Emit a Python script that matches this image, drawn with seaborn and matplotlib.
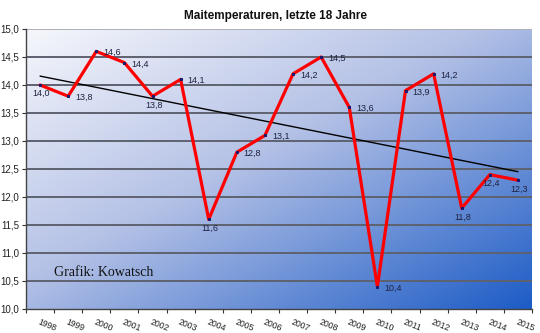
import numpy as np
import pandas as pd
import matplotlib
matplotlib.use("Agg")
import matplotlib.pyplot as plt
from matplotlib.colors import LinearSegmentedColormap
from matplotlib.ticker import FixedLocator, FuncFormatter
import seaborn as sns

# May mean temperatures (°C), last 18 years
years = [1998, 1999, 2000, 2001, 2002, 2003, 2004, 2005, 2006,
         2007, 2008, 2009, 2010, 2011, 2012, 2013, 2014, 2015]
temps = [14.0, 13.8, 14.6, 14.4, 13.8, 14.1, 11.6, 12.8, 13.1,
         14.2, 14.5, 13.6, 10.4, 13.9, 14.2, 11.8, 12.4, 12.3]
# where each value label sits relative to its point
label_pos = ["below", "right", "right", "right", "below", "right", "below", "right", "right",
             "right", "right", "right", "right", "right", "right", "below", "below", "below"]
y_ticks = [10.0, 10.5, 11.0, 11.5, 12.0, 12.5, 13.0, 13.5, 14.0, 14.5, 15.0]

df = pd.DataFrame({"idx": np.arange(len(years)), "year": years, "temp": temps})

sns.set_theme(style="white")
plt.rcParams["font.family"] = ["Liberation Sans", "DejaVu Sans"]

fig = plt.figure(figsize=(5.4, 3.33), dpi=100)
ax = fig.add_axes([26 / 540, 1 - 309 / 333, (532 - 26) / 540, (309 - 29) / 333])

# diagonal gradient backdrop of the plot area
cmap = LinearSegmentedColormap.from_list(
    "bg", [(0.0, "#f6f7fc"), (0.45, "#b4c1e6"), (1.0, "#1d5cc6")])
gx, gy = np.meshgrid(np.linspace(0, 1, 300), np.linspace(0, 1, 200))
grad = (gx + (1 - gy)) / 2
ax.imshow(grad, cmap=cmap, extent=[0, 1, 0, 1], transform=ax.transAxes,
          origin="lower", aspect="auto", zorder=0, interpolation="bilinear")

# horizontal grid
for v in y_ticks[1:]:
    ax.axhline(v, color="#5e6270" if v < 15 else "#b0b0b8", lw=1.4, zorder=1)

# linear trend
sns.regplot(data=df, x="idx", y="temp", scatter=False, ci=None, ax=ax,
            color="black", line_kws={"lw": 1.0, "zorder": 2})

# temperature series
sns.lineplot(data=df, x="idx", y="temp", ax=ax, color="#ff0000", lw=2.3,
             marker="s", markersize=1.8, markerfacecolor="#1a1a70",
             markeredgecolor="#1a1a70", zorder=3)

for i, (t, pos) in enumerate(zip(temps, label_pos)):
    txt = f"{t:.1f}".replace(".", ",")
    if pos == "right":
        ax.annotate(txt, (i, t), xytext=(5, -1), textcoords="offset points",
                    ha="left", va="center", fontsize=6.5, color="#1e2240", zorder=4)
    else:
        ax.annotate(txt, (i, t), xytext=(1, -3), textcoords="offset points",
                    ha="center", va="top", fontsize=6.5, color="#1e2240", zorder=4)

ax.set_xlim(-0.5, len(years) - 0.5)
ax.set_ylim(10.0, 15.0)
ax.set_xlabel("")
ax.set_ylabel("")

ax.set_xticks(df["idx"])
ax.set_xticklabels([str(y) for y in years], rotation=-22, ha="left",
                   rotation_mode="anchor", fontsize=6.2, color="#222222")
ax.xaxis.set_minor_locator(FixedLocator(np.arange(-0.5, len(years), 1.0)))
ax.tick_params(axis="x", which="major", length=0, pad=6)
ax.tick_params(axis="x", which="minor", length=3, width=0.8, color="#333333", bottom=True)

ax.set_yticks(y_ticks)
ax.yaxis.set_major_formatter(FuncFormatter(lambda v, p: f"{v:.1f}".replace(".", ",")))
ax.tick_params(axis="y", which="major", length=3, width=0.8, color="#333333",
               labelsize=7, labelcolor="#222222", pad=2, left=True)

for side in ["top", "right"]:
    ax.spines[side].set_visible(False)
ax.spines["left"].set_color("#444444")
ax.spines["left"].set_linewidth(1.0)
ax.spines["bottom"].set_color("#444444")
ax.spines["bottom"].set_linewidth(1.0)

fig.text(276 / 540, 1 - 16 / 333, "Maitemperaturen, letzte 18 Jahre", ha="center",
         va="center", fontsize=8.5, fontweight="bold", color="#111111")
fig.text(54 / 540, 1 - 273 / 333, "Grafik: Kowatsch", ha="left", va="center",
         fontsize=10, family=["Liberation Serif", "DejaVu Serif"], color="#111111")

fig.savefig("out.png", dpi=100)
